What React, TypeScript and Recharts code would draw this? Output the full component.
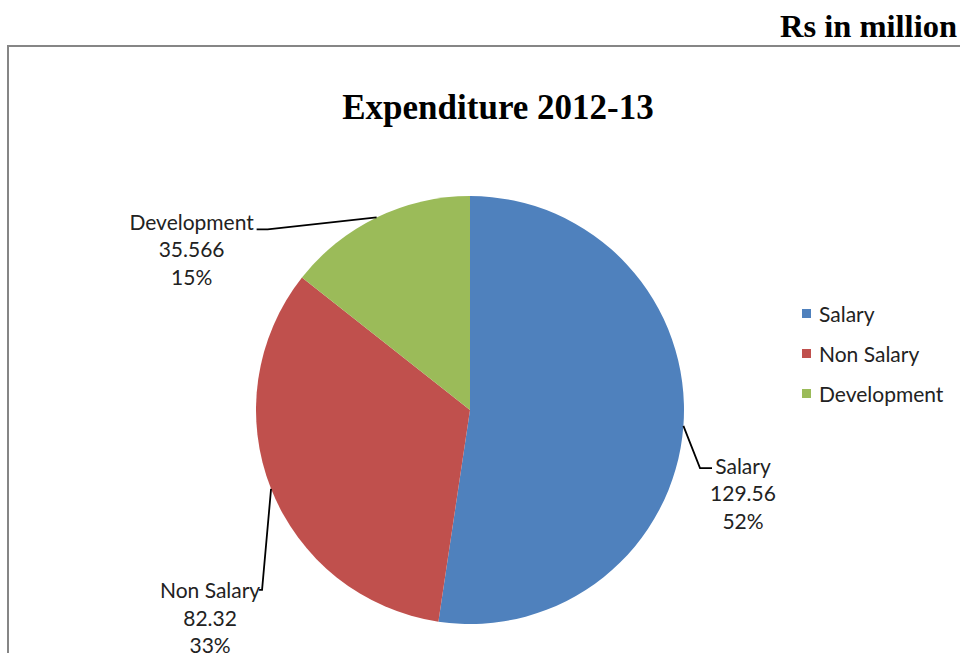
import React from "react";
import { PieChart, Pie, Cell, Legend } from "recharts";

const categories = ["Salary", "Non Salary", "Development"];
const values = [129.56, 82.32, 35.566];
const valueLabels = ["129.56", "82.32", "35.566"];
const percentLabels = ["52%", "33%", "15%"];
const colors = ["#4F81BD", "#C0504D", "#9BBB59"];
const titleText = "Expenditure 2012-13";
const unitText = "Rs in million";

const data = categories.map((name, i) => ({ name, value: values[i], shown: valueLabels[i], pct: percentLabels[i] }));

// leader line geometry relative to slice edge point
const labelLayout: Record<string, { dx: number; dy: number; hx: number; tcx: number; ty: number }> = {
  Salary: { dx: 16.6, dy: 42.3, hx: 12, tcx: 31, ty: -3 },
  "Non Salary": { dx: -9, dy: 101, hx: -3, tcx: -49, ty: 0 },
  Development: { dx: -109, dy: 12, hx: -11, tcx: -65, ty: -8 },
};

const RAD = Math.PI / 180;
const LABEL_FONT = "Lato, 'Liberation Sans', sans-serif";

const renderLabel = (props: any) => {
  const { cx, cy, midAngle, outerRadius, name, payload } = props;
  const lay = labelLayout[name];
  const ex = cx + outerRadius * Math.cos(-midAngle * RAD);
  const ey = cy + outerRadius * Math.sin(-midAngle * RAD);
  const bx = ex + lay.dx;
  const by = ey + lay.dy;
  const fx = bx + lay.hx;
  const tx = fx + lay.tcx;
  const ty = by + lay.ty;
  const lines = [name, payload.shown, payload.pct];
  return (
    <g>
      <polyline points={`${ex},${ey} ${bx},${by} ${fx},${by}`} fill="none" stroke="#000" strokeWidth={1.8} />
      {lines.map((t, i) => (
        <text
          key={i}
          x={tx}
          y={ty + i * 27.5}
          textAnchor="middle"
          dominantBaseline="central"
          fontFamily={LABEL_FONT}
          fontSize={21}
          fill="#222"
        >
          {t}
        </text>
      ))}
    </g>
  );
};

const renderLegend = () => (
  <div style={{ fontFamily: LABEL_FONT, fontSize: 21, color: "#222" }}>
    {categories.map((c, i) => (
      <div key={c} style={{ display: "flex", alignItems: "center", height: 40 }}>
        <span style={{ display: "inline-block", width: 9, height: 9, background: colors[i], marginRight: 8 }} />
        <span>{c}</span>
      </div>
    ))}
  </div>
);

export default function App() {
  return (
    <div style={{ position: "absolute", left: 0, top: 0, width: 960, height: 653, background: "#fff", overflow: "hidden" }}>
      <div
        style={{
          position: "absolute",
          left: 7,
          top: 45,
          width: 960,
          height: 700,
          borderLeft: "2px solid #868686",
          borderTop: "2px solid #868686",
        }}
      />
      <div
        style={{
          position: "absolute",
          right: 3,
          top: 7,
          fontFamily: "'Liberation Serif', 'Times New Roman', serif",
          fontWeight: "bold",
          fontSize: 32.5,
          lineHeight: "38px",
          color: "#000",
        }}
      >
        {unitText}
      </div>
      <div
        style={{
          position: "absolute",
          left: 0,
          width: 996,
          top: 87,
          textAlign: "center",
          fontFamily: "'Liberation Serif', 'Times New Roman', serif",
          fontWeight: "bold",
          fontSize: 35,
          lineHeight: "42px",
          color: "#000",
        }}
      >
        {titleText}
      </div>
      <div style={{ position: "absolute", left: 0, top: 0 }}>
        <PieChart width={960} height={653} margin={{ top: 0, right: 0, bottom: 0, left: 0 }}>
          <Pie
            data={data}
            dataKey="value"
            nameKey="name"
            cx={470}
            cy={410}
            outerRadius={214}
            startAngle={90}
            endAngle={-270}
            stroke="none"
            isAnimationActive={false}
            label={renderLabel}
            labelLine={false}
          >
            {data.map((d, i) => (
              <Cell key={d.name} fill={colors[i]} />
            ))}
          </Pie>
          <Legend
            layout="vertical"
            content={renderLegend}
            wrapperStyle={{ position: "absolute", left: 802, top: 293, width: 160 }}
          />
        </PieChart>
      </div>
    </div>
  );
}
